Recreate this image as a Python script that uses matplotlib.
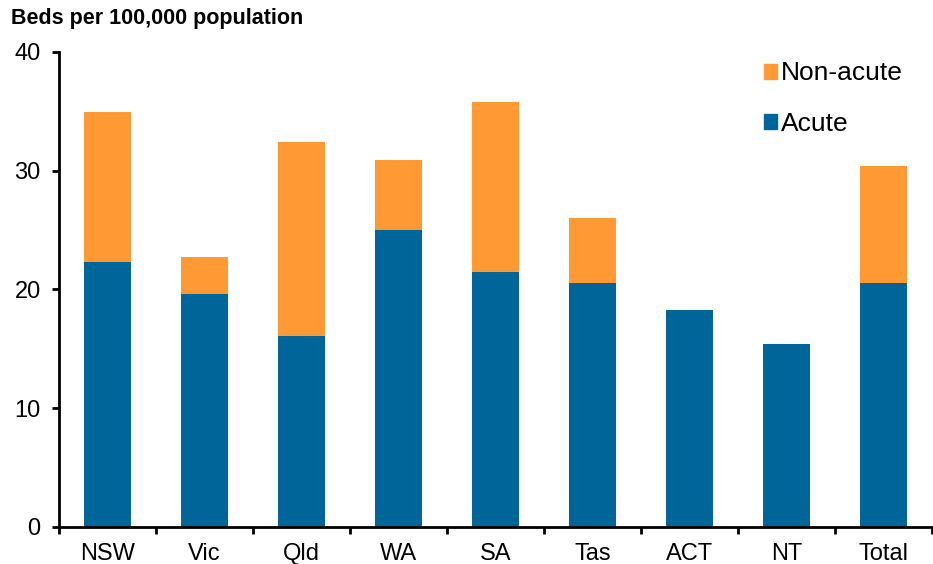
import matplotlib

matplotlib.use('Agg')
import matplotlib.pyplot as plt
import numpy as np
from matplotlib.patches import Patch

plt.rcParams['font.family'] = ['Liberation Sans', 'DejaVu Sans']

states = ['NSW', 'Vic', 'Qld', 'WA', 'SA', 'Tas', 'ACT', 'NT', 'Total']
acute = [22.3, 19.6, 16.1, 25.0, 21.5, 20.5, 18.3, 15.4, 20.5]
non_acute = [12.6, 3.1, 16.3, 5.9, 14.3, 5.5, 0.0, 0.0, 9.9]

c_acute = '#006699'
c_non = '#ff9933'

fig = plt.figure(figsize=(9.33, 5.64), dpi=100)
ax = fig.add_axes([0.063, 0.066, 0.936, 0.842])

x = np.arange(len(states))
ax.bar(x, acute, width=0.48, color=c_acute)
ax.bar(x, non_acute, width=0.48, bottom=acute, color=c_non)

ax.set_xlim(-0.5, len(states) - 0.5)
ax.set_ylim(0, 40)
ax.set_yticks([0, 10, 20, 30, 40])
ax.set_xticks(x)
ax.set_xticklabels(states)
ax.set_xticks(np.arange(-0.5, len(states), 1), minor=True)
ax.tick_params(axis='x', which='major', length=0, pad=12, labelsize=17)
ax.tick_params(axis='x', which='minor', length=5, width=2, direction='out')
ax.tick_params(axis='y', length=5, width=2, direction='out', labelsize=17, pad=8)

for s in ['top', 'right']:
    ax.spines[s].set_visible(False)
for s in ['left', 'bottom']:
    ax.spines[s].set_linewidth(2)

fig.text(0.012, 0.985, 'Beds per 100,000 population', fontsize=15.5, fontweight='bold',
         ha='left', va='top')

handles = [Patch(color=c_non, label='Non-acute'), Patch(color=c_acute, label='Acute')]
ax.legend(handles=handles, loc='upper left', bbox_to_anchor=(0.78, 1.03), frameon=False,
          fontsize=19, handlelength=0.5, handleheight=0.5, handletextpad=0.15,
          labelspacing=1.0)

fig.savefig('out.png', dpi=100)
